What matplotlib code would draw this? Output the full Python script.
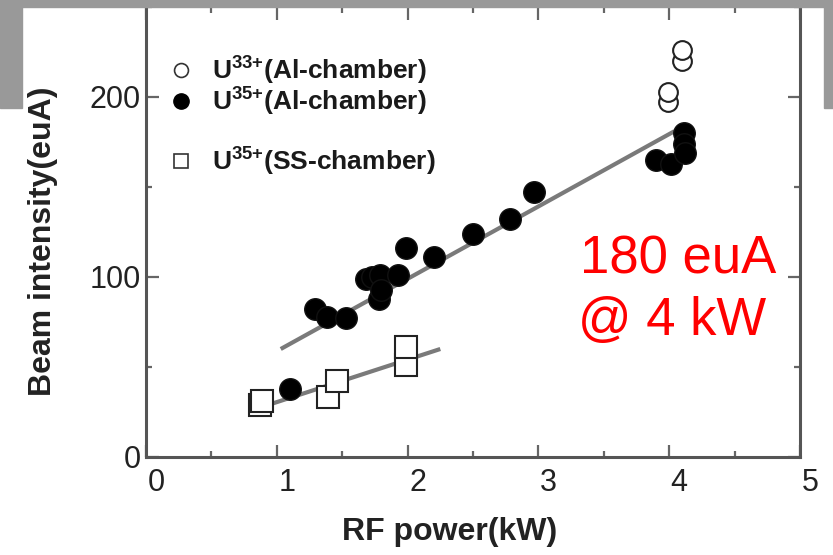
import matplotlib
matplotlib.use("Agg")
import matplotlib.pyplot as plt
import matplotlib.transforms as mtransforms
from matplotlib.patches import Rectangle
from matplotlib.ticker import MultipleLocator

plt.rcParams['font.family'] = ['Liberation Sans', 'DejaVu Sans']
plt.rcParams['mathtext.fontset'] = 'custom'
plt.rcParams['mathtext.rm'] = 'Liberation Sans'
plt.rcParams['mathtext.bf'] = 'Liberation Sans:bold'

# ---- data ----
al35_x = [1.10, 1.29, 1.38, 1.53, 1.68, 1.73, 1.79, 1.78, 1.80, 1.93, 1.99, 2.20, 2.50, 2.78, 2.97,
          3.90, 4.01, 4.11, 4.11, 4.12]
al35_y = [38, 82, 78, 77, 99, 100, 101, 88, 93, 101, 116, 111, 124, 132, 147,
          165, 163, 180, 174, 169]
al33_x = [3.99, 3.99, 4.10, 4.10]
al33_y = [197, 203, 220, 226]
ss35_x = [0.87, 0.89, 1.39, 1.46, 1.99, 1.99]
ss35_y = [29, 31, 33.5, 42, 51, 61]
fit_al_x = [1.03, 4.04]
fit_al_y = [60, 181]
fit_ss_x = [0.81, 2.25]
fit_ss_y = [26, 60]

x_ticks = [0, 1, 2, 3, 4, 5]
y_ticks = [0, 100, 200]
legend_labels = [r"U$^{\mathbf{33{+}}}$(Al-chamber)",
                 r"U$^{\mathbf{35{+}}}$(Al-chamber)",
                 r"U$^{\mathbf{35{+}}}$(SS-chamber)"]
x_label = "RF power(kW)"
y_label = "Beam intensity(euA)"
note_lines = ["180 euA", "@ 4 kW"]

W, H = 833, 555
fig = plt.figure(figsize=(W / 100, H / 100), dpi=100)
fig.patch.set_facecolor('white')

L, R, B, T = 146, 800, 457, 7
ax = fig.add_axes([L / W, 1 - B / H, (R - L) / W, (B - T) / H])

spine_c = '#555555'
ax.plot(fit_al_x, fit_al_y, color='#7a7a7a', lw=3, solid_capstyle='butt', zorder=2)
ax.plot(fit_ss_x, fit_ss_y, color='#7a7a7a', lw=3, solid_capstyle='butt', zorder=2)
ax.plot(ss35_x, ss35_y, ls='none', marker='s', ms=15.5, mfc='white', mec='#222222', mew=1.5, zorder=3)
ax.plot(al33_x, al33_y, ls='none', marker='o', ms=13.5, mfc='white', mec='#222222', mew=1.5, zorder=3)
ax.plot(al35_x, al35_y, ls='none', marker='o', ms=15.5, mfc='black', mec='#111111', mew=1, zorder=4)

ax.set_xlim(0, 5)
ax.set_ylim(0, 250)
ax.set_xticks(x_ticks)
ax.set_yticks(y_ticks)
ax.xaxis.set_minor_locator(MultipleLocator(0.5))
ax.yaxis.set_minor_locator(MultipleLocator(50))
ax.tick_params(which='both', direction='in', top=True, right=True, color='#666666',
               labelsize=22, labelcolor='#222222')
ax.tick_params(which='major', length=9, width=1.6)
ax.tick_params(which='minor', length=4.5, width=1.6)
ax.tick_params(axis='x', pad=8)
ax.tick_params(axis='y', pad=4)
for s in ['left', 'bottom', 'right']:
    ax.spines[s].set_color(spine_c)
    ax.spines[s].set_linewidth(2.2)
ax.spines['top'].set_visible(False)

offset = mtransforms.ScaledTranslation(0.10, 0, fig.dpi_scale_trans)
for lab in ax.get_xticklabels():
    lab.set_transform(lab.get_transform() + offset)

ax.set_xlabel(x_label, fontsize=23, fontweight='bold', color='#222222')
ax.set_ylabel(y_label, fontsize=23, fontweight='bold', color='#222222')
ax.xaxis.set_label_coords((450 - L) / (R - L), (B - 532) / (B - T))
ax.xaxis.label.set_va('center')
ax.yaxis.set_label_coords((43 - L) / (R - L), (B - 241) / (B - T))
ax.yaxis.label.set_va('center')
ax.yaxis.label.set_rotation_mode('anchor')

# legend (manual)
def fx(px):
    return (px - L) / (R - L)

def fy(py):
    return (B - py) / (B - T)

leg_rows = [(70, dict(marker='o', ms=10, mfc='white', mec='#333333', mew=1.2)),
            (101, dict(marker='o', ms=11, mfc='black', mec='black', mew=1)),
            (161, dict(marker='s', ms=10.5, mfc='white', mec='#333333', mew=1.2))]
for (py, st), lab in zip(leg_rows, legend_labels):
    ax.plot([fx(181)], [fy(py)], ls='none', transform=ax.transAxes, clip_on=False, **st)
    ax.text(fx(212), fy(py), lab, transform=ax.transAxes, fontsize=19, fontweight='bold',
            color='#1a1a1a', va='center', ha='left')

# red annotation
fig.text(580 / W, 1 - 273 / H, note_lines[0], color='#ff0000', fontsize=38, va='baseline', ha='left')
fig.text(578 / W, 1 - 335 / H, note_lines[1], color='#ff0000', fontsize=38, va='baseline', ha='left')

# slide background grey bars
grey = '#999999'
fig.add_artist(Rectangle((0, 1 - 7 / H), 1, 7 / H, transform=fig.transFigure, color=grey, zorder=10))
fig.add_artist(Rectangle((0, 1 - 108 / H), 22 / W, 108 / H, transform=fig.transFigure, color=grey, zorder=10))
fig.add_artist(Rectangle((824 / W, 1 - 108 / H), 9 / W, 108 / H, transform=fig.transFigure, color=grey, zorder=10))

fig.savefig('out.png', dpi=100)
